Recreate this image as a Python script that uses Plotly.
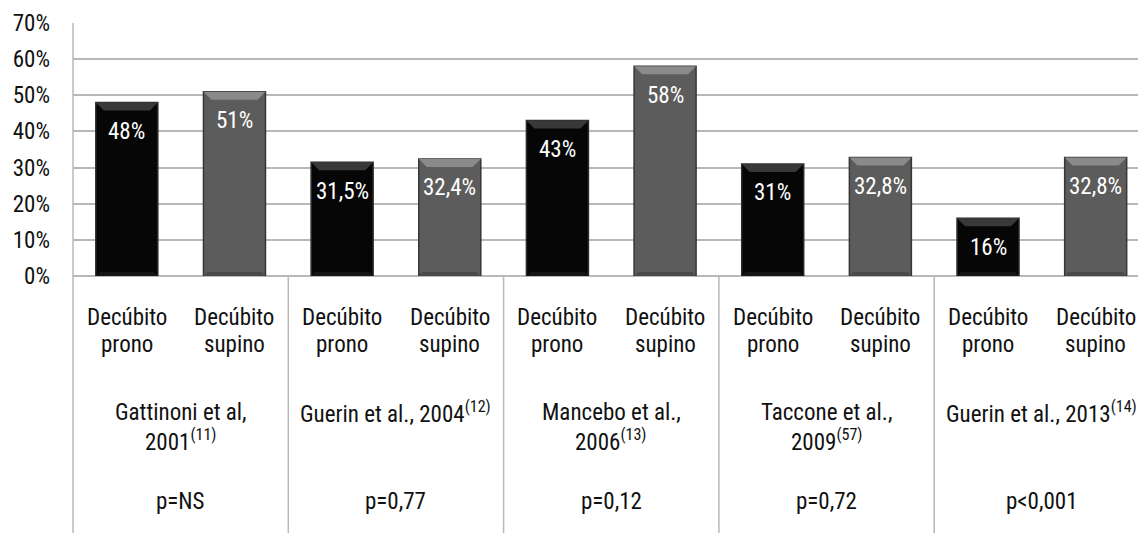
import plotly.graph_objects as go

# Mortality by position in each study
study_lines = [
    ["Gattinoni et al,", "2001<sup>(11)</sup>"],
    ["Guerin et al., 2004<sup>(12)</sup>"],
    ["Mancebo et al.,", "2006<sup>(13)</sup>"],
    ["Taccone et al.,", "2009<sup>(57)</sup>"],
    ["Guerin et al., 2013<sup>(14)</sup>"],
]
p_values = ["p=NS", "p=0,77", "p=0,12", "p=0,72", "p<0,001"]
positions = [["Decúbito", "prono"], ["Decúbito", "supino"]]
prono = [48, 31.5, 43, 31, 16]
supino = [51, 32.4, 58, 32.8, 32.8]
y_ticks = [0, 10, 20, 30, 40, 50, 60, 70]

FONT = "Roboto Condensed, Liberation Sans Narrow, DejaVu Sans Condensed, sans-serif"
FS = 23
TXT = "#111111"
W, H = 1138, 533
ML, MT, MB = 73, 23, 257
BAR_W = 0.576
GRID = "#b8b8b8"


def fmt(v):
    return f"{v:g}".replace(".", ",") + "%"


n = len(study_lines)
x_prono = [2 * i for i in range(n)]
x_supino = [2 * i + 1 for i in range(n)]

fig = go.Figure()
fig.add_trace(go.Bar(
    x=x_prono, y=prono, width=BAR_W,
    marker=dict(color="#060606", line=dict(color="#2c2c2c", width=1.5)),
    hoverinfo="skip",
))
fig.add_trace(go.Bar(
    x=x_supino, y=supino, width=BAR_W,
    marker=dict(color="#5c5c5c", line=dict(color="#363636", width=1.5)),
    hoverinfo="skip",
))

plot_h = H - MT - MB
plot_w = W - ML
px_per_unit = 215.3 / 2
x_end = -0.5 + plot_w / px_per_unit
py_per_pct = plot_h / 70.0

# bevel highlights on the top and bottom of each bar
bev_y = 8 / py_per_pct
bev_x = 8 / px_per_unit
bot_y = 4 / py_per_pct
shapes = []
for xs, vals, top_col, bot_col in [(x_prono, prono, "#383838", "#151515"),
                                   (x_supino, supino, "#8a8a8a", "#4a4a4a")]:
    for xc, v in zip(xs, vals):
        l, r = xc - BAR_W / 2, xc + BAR_W / 2
        shapes.append(dict(
            type="path", xref="x", yref="y", layer="above",
            path=f"M{l},{v} L{r},{v} L{r - bev_x},{v - bev_y} L{l + bev_x},{v - bev_y} Z",
            fillcolor=top_col, line=dict(width=0),
        ))
        shapes.append(dict(
            type="path", xref="x", yref="y", layer="above",
            path=f"M{l},0 L{r},0 L{r - bev_x / 2},{bot_y} L{l + bev_x / 2},{bot_y} Z",
            fillcolor=bot_col, line=dict(width=0),
        ))

# table frame below the axis
bottom = -MB / plot_h
shapes.append(dict(type="line", xref="paper", yref="paper", x0=0, x1=0, y0=1, y1=bottom,
                   line=dict(color=GRID, width=1.5)))
for i in range(1, n):
    xs = 2 * i - 0.5
    shapes.append(dict(type="line", xref="x", yref="paper", x0=xs, x1=xs, y0=0, y1=bottom,
                       line=dict(color=GRID, width=1.5)))

annotations = []
for xs, vals in [(x_prono, prono), (x_supino, supino)]:
    for xc, v in zip(xs, vals):
        annotations.append(dict(
            x=xc, y=v, xref="x", yref="y", text=fmt(v), showarrow=False,
            yanchor="middle", yshift=-29, font=dict(family=FONT, size=FS, color="white"),
        ))


def py(pix):
    return (H - MB - pix) / plot_h


def label(x, pix, text):
    annotations.append(dict(
        x=x, y=py(pix), xref="x", yref="paper", text=text, showarrow=False,
        yanchor="middle", font=dict(family=FONT, size=FS, color=TXT),
    ))


for i in range(n):
    for k, xc in enumerate((x_prono[i], x_supino[i])):
        label(xc, 317, positions[k][0])
        label(xc, 344, positions[k][1])
    for j, line in enumerate(study_lines[i]):
        label(2 * i + 0.5, 412 + 28 * j, line)
    label(2 * i + 0.5, 501, p_values[i])

fig.update_layout(
    width=W, height=H,
    margin=dict(l=ML, r=0, t=MT, b=MB),
    paper_bgcolor="white", plot_bgcolor="white",
    showlegend=False, barmode="overlay",
    shapes=shapes, annotations=annotations,
    font=dict(family=FONT, size=FS, color=TXT),
    xaxis=dict(
        range=[-0.5, x_end], showticklabels=False,
        showgrid=False, zeroline=False, showline=False, ticks="",
    ),
    yaxis=dict(
        range=[0, 70], tickvals=y_ticks, ticktext=[f"{t}%" for t in y_ticks],
        showgrid=True, gridcolor=GRID, gridwidth=1.5,
        zeroline=True, zerolinecolor=GRID, zerolinewidth=1.5,
        showline=False, ticks="", ticklabelstandoff=22,
        tickfont=dict(family=FONT, size=FS, color=TXT),
    ),
)

fig.write_html("out.html")
